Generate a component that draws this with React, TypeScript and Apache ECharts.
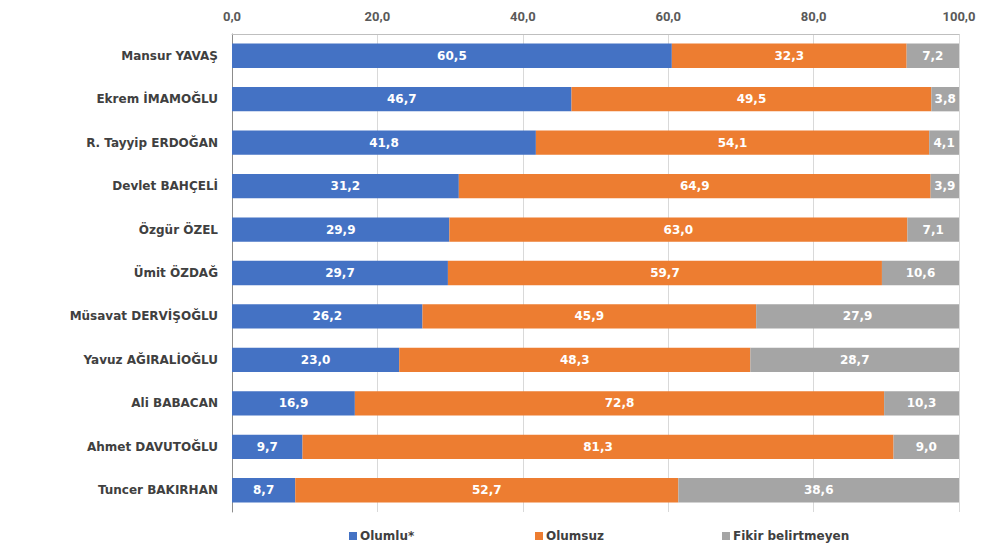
import React, { useEffect, useRef } from "react";
import * as echarts from "echarts";

const categories = [
  "Mansur YAVAŞ",
  "Ekrem İMAMOĞLU",
  "R. Tayyip ERDOĞAN",
  "Devlet BAHÇELİ",
  "Özgür ÖZEL",
  "Ümit ÖZDAĞ",
  "Müsavat DERVİŞOĞLU",
  "Yavuz AĞIRALİOĞLU",
  "Ali BABACAN",
  "Ahmet DAVUTOĞLU",
  "Tuncer BAKIRHAN",
];
const olumlu = [60.5, 46.7, 41.8, 31.2, 29.9, 29.7, 26.2, 23.0, 16.9, 9.7, 8.7];
const olumsuz = [32.3, 49.5, 54.1, 64.9, 63.0, 59.7, 45.9, 48.3, 72.8, 81.3, 52.7];
const fikir = [7.2, 3.8, 4.1, 3.9, 7.1, 10.6, 27.9, 28.7, 10.3, 9.0, 38.6];
const seriesNames = ["Olumlu*", "Olumsuz", "Fikir belirtmeyen"];
const colors = ["#4472C4", "#ED7D31", "#A5A5A5"];

const fmt = (v: number) => v.toFixed(1).replace(".", ",");
const FONT = "DejaVu Sans";
const AXFONT = "Roboto";

export default function App() {
  const ref = useRef<HTMLDivElement>(null);
  useEffect(() => {
    if (!ref.current) return;
    const chart = echarts.init(ref.current, undefined, { renderer: "svg" });
    const datasets = [olumlu, olumsuz, fikir];
    const legendX = [349, 535, 722];
    chart.setOption({
      animation: false,
      textStyle: { fontFamily: FONT },
      grid: { left: 232, right: 45, top: 34, bottom: 40 },
      xAxis: {
        type: "value",
        position: "top",
        min: 0,
        max: 100,
        interval: 20,
        axisLine: { show: true, lineStyle: { color: "#BFBFBF", width: 1 } },
        axisTick: { show: false },
        splitLine: { show: true, lineStyle: { color: "#D9D9D9", width: 1 } },
        axisLabel: {
          formatter: (v: number) => fmt(v),
          color: "#595959",
          fontWeight: "bold",
          fontSize: 13,
          fontFamily: AXFONT,
          margin: 11,
        },
      },
      yAxis: {
        type: "category",
        inverse: true,
        data: categories,
        axisLine: { show: true, lineStyle: { color: "#8C8C8C", width: 1 } },
        axisTick: { show: false },
        axisLabel: {
          color: "#404040",
          fontWeight: "bold",
          fontSize: 12,
          fontFamily: FONT,
          margin: 14,
        },
      },
      legend: seriesNames.map((n, i) => ({
        data: [n],
        left: legendX[i],
        top: 530,
        itemWidth: 8,
        itemHeight: 8,
        itemGap: 3,
        icon: "rect",
        padding: 0,
        textStyle: {
          color: "#404040",
          fontWeight: "bold",
          fontSize: 12,
          fontFamily: FONT,
          padding: [0, 0, 0, -2],
        },
      })),
      series: seriesNames.map((n, i) => ({
        name: n,
        type: "bar",
        stack: "total",
        barWidth: "56%",
        itemStyle: { color: colors[i] },
        label: {
          show: true,
          position: "inside",
          color: "#FFFFFF",
          fontWeight: "bold",
          fontSize: 12,
          fontFamily: FONT,
          formatter: (p: any) => fmt(p.value),
        },
        data: datasets[i],
      })),
    });
    return () => chart.dispose();
  }, []);
  return <div ref={ref} style={{ width: 1004, height: 552, margin: -8 }} />;
}
